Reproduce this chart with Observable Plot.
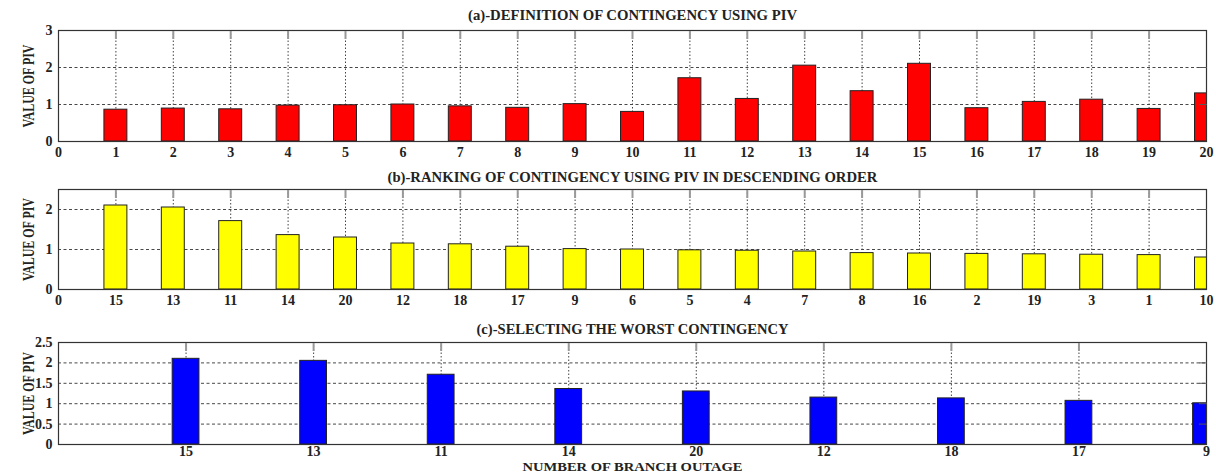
<!DOCTYPE html>
<html><head><meta charset="utf-8">
<script src="https://cdn.jsdelivr.net/npm/d3@7"></script>
<script src="https://cdn.jsdelivr.net/npm/@observablehq/plot@0.6"></script>
<style>
body{margin:0;background:#fff;width:1216px;height:474px;overflow:hidden;position:relative}
.panel{position:absolute;left:0;width:1216px}
</style></head><body>
<div id="pa" class="panel" style="top:0"></div>
<div id="pb" class="panel" style="top:160px"></div>
<div id="pc" class="panel" style="top:310px"></div>
<script>
// ---- data ----
const branches = [1,2,3,4,5,6,7,8,9,10,11,12,13,14,15,16,17,18,19,20];
const pivValues = [0.86,0.89,0.87,0.97,0.98,1.00,0.95,0.91,1.01,0.80,1.71,1.15,2.05,1.36,2.10,0.90,1.07,1.13,0.88,1.30];
const rankedBranches = [15,13,11,14,20,12,18,17,9,6,5,4,7,8,16,2,19,3,1,10];
const worstBranches = [15,13,11,14,20,12,18,17,9];
const titles = ["(a)-DEFINITION OF CONTINGENCY USING PIV","(b)-RANKING OF CONTINGENCY USING PIV IN DESCENDING ORDER","(c)-SELECTING THE WORST CONTINGENCY"];
const yLabel = "VALUE OF PIV";
const xLabel = "NUMBER OF BRANCH OUTAGE";
const yTicksA = [0,1,2,3];
const yTicksB = [0,1,2];
const yTicksC = [0,0.5,1,1.5,2,2.5];

const dataA = branches.map((b,i)=>({pos:b,label:b,v:pivValues[i]}));
const dataB = rankedBranches.map((b,i)=>({pos:i+1,label:b,v:pivValues[b-1]}));
const dataC = worstBranches.map((b,i)=>({pos:i+1,label:b,v:pivValues[b-1]}));

function panel(o){
  const ink = "#222";
  const marks = [
    Plot.gridY({ticks:o.yTicks.filter(t=>t>o.yDomain[0]&&t<o.yDomain[1]), stroke:"#333", strokeOpacity:1, strokeWidth:0.9, strokeDasharray:"3,2.5"}),
    Plot.gridX({ticks:o.xTicks.filter(t=>t>o.xDomain[0]&&t<o.xDomain[1]), stroke:"#444", strokeOpacity:1, strokeWidth:1, strokeDasharray:"1.5,2"}),
    Plot.rect(o.data,{x1:d=>d.pos-o.hw,x2:d=>d.pos+o.hw,y1:0,y2:"v",fill:o.fill,stroke:"#222",strokeWidth:1,clip:true}),
    Plot.frame({stroke:"#333",strokeWidth:1.2}),
    Plot.axisX({ticks:o.xTicks, anchor:"bottom", tickSize:0, tickPadding:o.tp, tickFormat:o.xFormat, label:null, fill:ink}),
    Plot.axisX({ticks:o.xTicks.filter(t=>t>o.xDomain[0]&&t<o.xDomain[1]), anchor:"top", tickSize:-8, tickFormat:()=>"", label:null, stroke:"#999", strokeWidth:2}),
    Plot.axisY({ticks:o.yTicks, anchor:"left", tickSize:0, tickPadding:6, tickFormat:d=>String(d), label:null, fill:ink}),
    Plot.axisY({ticks:o.yTicks.filter(t=>t>o.yDomain[0]&&t<o.yDomain[1]), anchor:"right", tickSize:-8, tickFormat:()=>"", label:null, stroke:"#555"}),
    Plot.text([o.title],{text:d=>d, frameAnchor:"top", dy:o.titleDy, lineAnchor:"middle", fontSize:14, fill:ink}),
    Plot.text([yLabel],{text:d=>d, frameAnchor:"left", dx:-30, rotate:-90, textAnchor:"middle", lineAnchor:"middle", fontSize:16, fill:ink})
  ];
  if(o.xLabel) marks.push(Plot.text([o.xLabel],{text:d=>d, frameAnchor:"bottom", dy:22, lineAnchor:"middle", fontSize:13, fill:ink}));
  const svg = Plot.plot({
    width:1216, height:o.height, marginLeft:58, marginRight:10, marginTop:o.mt, marginBottom:o.mb,
    style:{fontFamily:"'Liberation Serif', 'Times New Roman', serif", fontWeight:"bold", fontSize:"14px", background:"white", overflow:"visible"},
    x:{domain:o.xDomain}, y:{domain:o.yDomain},
    marks
  });
  const s = d3.select(svg);
  const fit = (txt,len)=> s.selectAll("text").filter(function(){return this.textContent===txt;}).attr("textLength",len).attr("lengthAdjust","spacingAndGlyphs");
  fit(o.title,o.titleLen);
  fit(yLabel,83);
  if(o.xLabel) fit(o.xLabel,220);
  document.getElementById(o.id).appendChild(svg);
}

panel({id:"pa",data:dataA,fill:"#ff0000",hw:0.2,height:160,mt:30,mb:19,tp:6,yDomain:[0,3],yTicks:yTicksA,
  xDomain:[0,20],xTicks:d3.range(0,21),xFormat:d=>String(d),title:titles[0],titleDy:-15,titleLen:329});
panel({id:"pb",data:dataB,fill:"#ffff00",hw:0.2,height:150,mt:29,mb:21,tp:6,yDomain:[0,2.5],yTicks:yTicksB,
  xDomain:[0,20],xTicks:d3.range(0,21),xFormat:d=>d===0?"0":String(rankedBranches[d-1]),title:titles[1],titleDy:-12,titleLen:490});
panel({id:"pc",data:dataC,fill:"#0000ff",hw:0.105,height:164,mt:32,mb:30,tp:2,yDomain:[0,2.5],yTicks:yTicksC,
  xDomain:[0,9],xTicks:d3.range(1,10),xFormat:d=>String(worstBranches[d-1]),title:titles[2],titleDy:-13,titleLen:312,xLabel:xLabel});
</script>
</body></html>
